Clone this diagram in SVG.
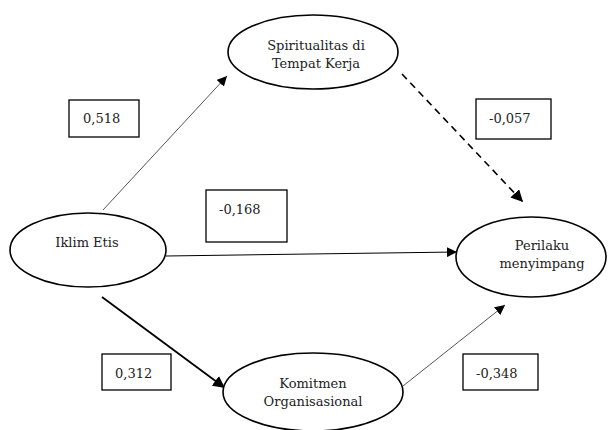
<svg xmlns="http://www.w3.org/2000/svg" width="608" height="430" viewBox="0 0 608 430">
<style>
.node ellipse{fill:#fff;stroke:#000;stroke-width:1.6}
.lbl rect{fill:#fff;stroke:#000;stroke-width:1.3}
.t{font-family:'DejaVu Serif',serif;font-size:13px;fill:#222}
.c{text-anchor:middle}
</style>
<defs>
<marker id="ah" viewBox="0 0 10 10" refX="10" refY="5" markerWidth="10" markerHeight="10" markerUnits="userSpaceOnUse" orient="auto">
<path d="M0,0 L10,5 L0,10 Z" fill="#000"/>
</marker>
<marker id="ah2" viewBox="0 0 10 10" refX="10" refY="5" markerWidth="12" markerHeight="12" markerUnits="userSpaceOnUse" orient="auto">
<path d="M0,0 L10,5 L0,10 Z" fill="#000"/>
</marker>
</defs>
<g id="connectors" fill="none">
<line x1="103" y1="210" x2="227" y2="76" stroke="#555" stroke-width="1" marker-end="url(#ah)"/>
<line x1="402" y1="74" x2="523" y2="202" stroke="#000" stroke-width="1.6" stroke-dasharray="7,5" marker-end="url(#ah2)"/>
<line x1="166" y1="256" x2="457" y2="252" stroke="#000" stroke-width="1.1" marker-end="url(#ah)"/>
<line x1="102" y1="297" x2="225" y2="388" stroke="#000" stroke-width="1.8" marker-end="url(#ah2)"/>
<line x1="403" y1="386" x2="505" y2="305" stroke="#555" stroke-width="1" marker-end="url(#ah)"/>
</g>
<g>
<g id="spiritualitas" class="node">
<ellipse cx="313" cy="52" rx="85" ry="37"/>
<text class="t c" x="316" y="50">Spiritualitas di</text>
<text class="t c" x="316" y="68">Tempat Kerja</text>
</g>
<g id="iklim" class="node">
<ellipse cx="88" cy="250" rx="78" ry="37"/>
<text class="t c" x="87" y="247">Iklim Etis</text>
</g>
<g id="perilaku" class="node">
<ellipse cx="531" cy="257" rx="75" ry="40"/>
<text class="t c" x="542" y="250">Perilaku</text>
<text class="t c" x="542" y="268">menyimpang</text>
</g>
<g id="komitmen" class="node">
<ellipse cx="313" cy="392" rx="90" ry="39"/>
<text class="t c" x="313" y="388">Komitmen</text>
<text class="t c" x="313" y="406">Organisasional</text>
</g>
<g id="label-0518" class="lbl">
<rect x="69" y="100" width="70" height="37"/>
<text class="t" x="83" y="123">0,518</text>
</g>
<g id="label-0168" class="lbl">
<rect x="206" y="190" width="81" height="52"/>
<text class="t" x="219" y="214">-0,168</text>
</g>
<g id="label-0057" class="lbl">
<rect x="476" y="99" width="75" height="40"/>
<text class="t" x="489" y="123">-0,057</text>
</g>
<g id="label-0312" class="lbl">
<rect x="102" y="354" width="69" height="36"/>
<text class="t" x="115" y="378">0,312</text>
</g>
<g id="label-0348" class="lbl">
<rect x="463" y="354" width="75" height="36"/>
<text class="t" x="476" y="378">-0,348</text>
</g>
</g>
</svg>
